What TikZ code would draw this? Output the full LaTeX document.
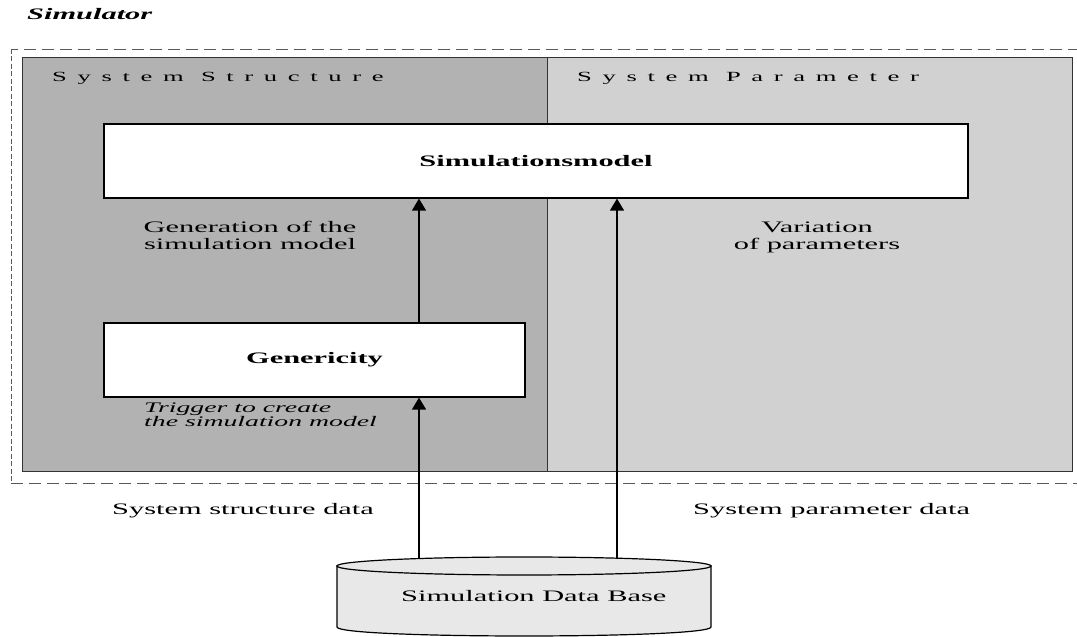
\documentclass[tikz,border=0pt]{standalone}
\usepackage{fontspec}
\setmainfont{Liberation Serif}[FakeStretch=1.9]
\newfontfamily\spacedfont{Liberation Serif}[FakeStretch=1.9,LetterSpace=76]
\usetikzlibrary{positioning,arrows.meta,calc}
\definecolor{structgray}{gray}{0.70}
\definecolor{paramgray}{gray}{0.82}
\definecolor{dbgray}{gray}{0.91}
\tikzset{
  frame/.style={draw=black!65,line width=0.8pt,dash pattern=on 12pt off 6pt},
  panel/.style={draw=black!80,line width=1pt,inner sep=0pt,anchor=south west},
  modelbox/.style={draw=black,line width=1.2pt,fill=white,inner sep=0pt,
    font=\fontsize{16}{17}\selectfont\bfseries},
  lbl/.style={inner sep=0pt,font=\fontsize{16}{17}\selectfont},
  paneltitle/.style={inner sep=0pt,anchor=base west,font=\spacedfont\fontsize{14}{14}\selectfont},
  flow/.style={line width=1.2pt,-{Triangle[length=12pt,width=14pt]}},
  cyl/.style={draw=black,line width=1.2pt,fill=dbgray}
}

\begin{document}
\begin{tikzpicture}[x=1pt,y=1pt]
\useasboundingbox (0,0) rectangle (1077,637);

\node[anchor=base west,inner sep=0pt,font=\fontsize{16}{17}\selectfont\bfseries\itshape] (simulator) at (27,617) {Simulator};
\draw[frame] (1080,588) -- (11,588);
\draw[frame,dash pattern=on 5pt off 2.5pt] (11,588) -- (11,154);
\draw[frame] (11,154) -- (1080,154);

\node[panel,fill=structgray,minimum width=525,minimum height=414] (structure) at (22,165) {};
\node[panel,fill=paramgray,minimum width=525,minimum height=414] (parameter) at (547,165) {};
\node[paneltitle] (structtitle) at (52,555) {System Structure};
\node[paneltitle] (paramtitle) at (577,555) {System Parameter};

\node[modelbox,minimum width=864,minimum height=74] (sim) at (536,476) {Simulationsmodel};
\node[modelbox,minimum width=421,minimum height=74] (gen) at (314.5,277) {Genericity};

\node[lbl,anchor=base,align=center] (genlbl) at (250,387) {Generation of the\\simulation model};
\node[lbl,anchor=base,align=center] (varlbl) at (817,387) {Variation\\of parameters};
\node[lbl,anchor=base west,align=left,font=\fontsize{14.6}{14}\selectfont\itshape] (trigger) at (144,210) {Trigger to create\\the simulation model};
\node[lbl,anchor=base west] (structdata) at (112,122) {System structure data};
\node[lbl,anchor=base west] (paramdata) at (693,122) {System parameter data};

\filldraw[cyl] (337,71) -- (337,10) .. controls (337,-2) and (711,-2) .. (711,10) -- (711,71) -- cycle;
\filldraw[cyl] (524,71) ellipse [x radius=187,y radius=9];
\node[lbl,anchor=base west] (db) at (401,35) {Simulation Data Base};

\coordinate (in1) at (419,79);
\coordinate (in2) at (617,79);
\draw[flow] (in1) -- (in1 |- gen.south);
\draw[flow] (in1 |- gen.north) -- (in1 |- sim.south);
\draw[flow] (in2) -- (in2 |- sim.south);
\end{tikzpicture}
\end{document}
